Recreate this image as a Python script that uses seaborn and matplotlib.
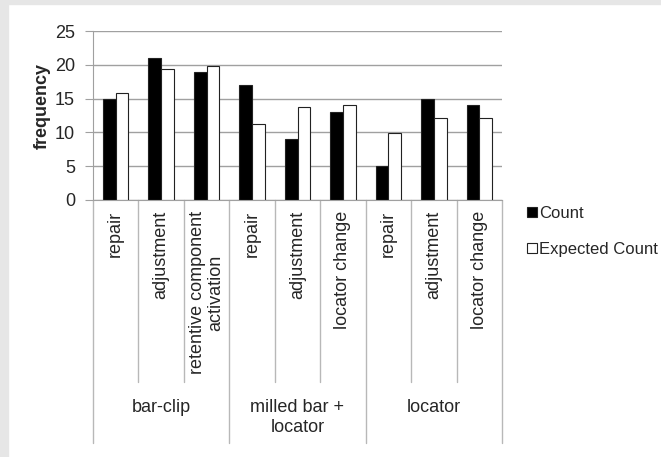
import matplotlib
matplotlib.use('Agg')
import matplotlib.pyplot as plt
import matplotlib.transforms as mtransforms
from matplotlib.patches import Rectangle
import pandas as pd
import seaborn as sns

groups = ['bar-clip', 'milled bar +\nlocator', 'locator']
subcats = [['repair', 'adjustment', 'retentive component\nactivation'],
           ['repair', 'adjustment', 'locator change'],
           ['repair', 'adjustment', 'locator change']]
count = [15, 21, 19, 17, 9, 13, 5, 15, 14]
expected = [15.9, 19.4, 19.8, 11.3, 13.7, 14.1, 9.9, 12.1, 12.2]
series = ['Count', 'Expected Count']

keys = [g + '|' + s for g, subs in zip(groups, subcats) for s in subs]
df = pd.DataFrame({
    'key': keys * 2,
    'frequency': count + expected,
    'series': [series[0]] * len(count) + [series[1]] * len(expected),
})

sns.set_style('white')
plt.rcParams['font.family'] = ['Liberation Sans', 'DejaVu Sans']
plt.rcParams['font.size'] = 13

W, H = 661, 457
fig = plt.figure(figsize=(W / 100, H / 100), dpi=100)
ax = fig.add_axes([93 / W, 1 - 200 / H, (502 - 93) / W, 169 / H])

sns.barplot(data=df, x='key', y='frequency', hue='series', order=keys,
            palette=['black', 'white'], saturation=1, width=0.56,
            edgecolor='#222222', linewidth=0.8, ax=ax)

ax.set_xlim(-0.5, len(keys) - 0.5)
ax.set_ylim(0, 25)
ax.set_yticks(range(0, 26, 5))
ax.yaxis.grid(True, color='#a0a0a0', lw=1)
ax.set_axisbelow(True)
for s in ['top', 'right']:
    ax.spines[s].set_visible(False)
for s in ['left', 'bottom']:
    ax.spines[s].set_color('#a0a0a0')
ax.tick_params(axis='y', length=6, color='#a0a0a0', direction='out',
               labelsize=13, pad=7, left=True)
ax.set_xticks([])
ax.set_xlabel('')
ax.set_ylabel('')
fig.text(42 / W, 1 - 106 / H, 'frequency', rotation=90, ha='center',
         va='center', fontweight='bold', fontsize=13)

# multi-level category axis
trans = mtransforms.blended_transform_factory(ax.transData, ax.transAxes)
i = 0
for g, subs in zip(groups, subcats):
    for s in subs:
        ax.text(i, -11 / 169, s, rotation=90, ha='center', va='top',
                multialignment='center', transform=trans, fontsize=13,
                linespacing=1.05)
        i += 1
    ax.text(i - 2, -199 / 169, g, ha='center', va='top',
            multialignment='center', transform=trans, fontsize=13,
            linespacing=1.2)

for j in range(len(keys) + 1):
    x = j - 0.5
    depth = 243 / 169 if j % 3 == 0 else 182 / 169
    ax.axvline(x, ymin=-depth, ymax=0, clip_on=False, color='#b8b8b8', lw=1)

handles, labels = ax.get_legend_handles_labels()
ax.legend(handles, labels, loc='upper left',
          bbox_to_anchor=(527 / W, 1 - 206 / H), bbox_transform=fig.transFigure,
          frameon=False, handlelength=0.6, handleheight=0.6,
          handletextpad=0.12, labelspacing=1.25, fontsize=12,
          borderaxespad=0, borderpad=0)

# light gray frame on left and top
fig.patches.append(Rectangle((0, 0), 8 / W, 1, transform=fig.transFigure,
                             color='#e6e6e6', zorder=-1))
fig.patches.append(Rectangle((0, 1 - 4 / H), 1, 4 / H,
                             transform=fig.transFigure, color='#e6e6e6',
                             zorder=-1))

fig.savefig('out.png', dpi=100)
